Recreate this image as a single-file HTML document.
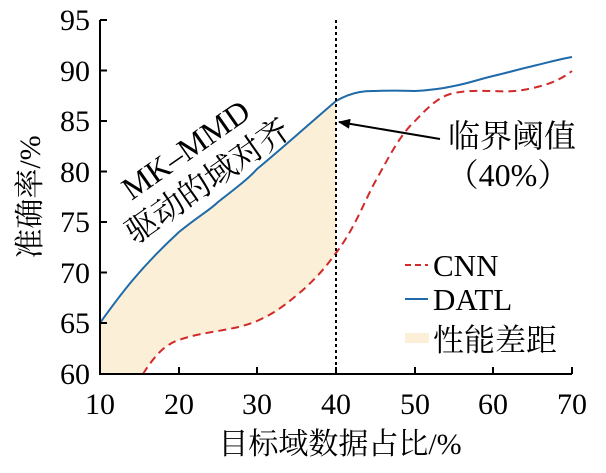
<!DOCTYPE html>
<html><head><meta charset="utf-8"><style>body{margin:0;background:#fff}</style></head><body>
<svg width="606" height="468" xmlns="http://www.w3.org/2000/svg" font-family="'Liberation Serif','Noto Serif CJK SC',serif">
<defs><clipPath id="c"><rect x="100" y="0" width="480" height="374"/></clipPath>
<marker id="ah" markerWidth="12" markerHeight="10" refX="11" refY="5" orient="auto" markerUnits="userSpaceOnUse"><path d="M0,0 L12,5 L0,10z" fill="#000"/></marker></defs>
<g clip-path="url(#c)">
<path d="M100,323 C120,295 140,268 179,232 C200,215 210,210 218,202 C240,185 250,177 257,169 C280,150 300,132 336,101 L336,253 C320,275 305,290 297,295 C280,310 270,318 257,321 C240,328 230,329 218,331 C200,334 190,336 179,340 C170,344 165,347 163,349 C155,356 148,366 143,374 L100,374Z" fill="#fcefd8"/>
<path d="M100,323 C120,295 140,268 179,232 C200,215 210,210 218,202 C240,185 250,177 257,169 C280,150 300,132 336,101 C355,90 370,91 375,91 C400,90 410,91 415,91 C435,90 445,88 454,86 C470,83 480,79 493,76 C510,72 520,69 533,66 C550,62 560,59 572,57" fill="none" stroke="#1f6aa8" stroke-width="2"/>
<path d="M143,374 C148,366 155,356 163,349 C170,344 172,342 179,340 C190,336 200,334 218,331 C235,328 245,326 257,321 C275,313 285,305 297,295 C315,280 325,268 336,253 C355,228 365,200 375,182 C390,155 400,135 415,121 C430,105 440,96 454,93 C470,90 480,91 493,91 C510,92 520,91 533,88 C550,84 560,80 572,71" fill="none" stroke="#d02a2a" stroke-width="2" stroke-dasharray="8,5"/>
</g>
<line x1="336" y1="20" x2="336" y2="374" stroke="#000" stroke-width="2" stroke-dasharray="3,3"/>
<g stroke="#000" stroke-width="2" fill="none">
<path d="M100,20 L100,374 L572,374"/>
<path d="M100,20h7M100,70.5h7M100,121h7M100,171.5h7M100,222h7M100,272.5h7M100,323h7"/>
<path d="M179,374v-7M257,374v-7M336,374v-7M415,374v-7M493,374v-7M572,374v-7"/>
</g>
<g font-size="30" text-anchor="end">
<text x="90" y="30">95</text><text x="90" y="81">90</text><text x="90" y="131">85</text><text x="90" y="182">80</text><text x="90" y="232">75</text><text x="90" y="283">70</text><text x="90" y="333">65</text><text x="90" y="384">60</text>
</g>
<g font-size="30" text-anchor="middle">
<text x="100" y="414">10</text><text x="179" y="414">20</text><text x="257" y="414">30</text><text x="336" y="414">40</text><text x="415" y="414">50</text><text x="493" y="414">60</text><text x="572" y="414">70</text>
<text x="340" y="454">目标域数据占比/%</text>
<text transform="translate(40,197) rotate(-90)">准确率/%</text>
</g>
<g font-size="32" text-anchor="middle" transform="translate(200,170) rotate(-35)">
<text x="0" y="-14">MK–MMD</text>
<text x="0" y="24">驱动的域对齐</text>
</g>
<line x1="440" y1="139" x2="339" y2="122" stroke="#000" stroke-width="2" marker-end="url(#ah)"/>
<text x="512" y="147" font-size="32" text-anchor="middle">临界阈值</text>
<text x="508" y="186" font-size="32" text-anchor="middle">（40%）</text>
<line x1="405" y1="265" x2="428" y2="265" stroke="#d02a2a" stroke-width="2" stroke-dasharray="6,4"/>
<line x1="405" y1="299" x2="428" y2="299" stroke="#1f6aa8" stroke-width="2"/>
<rect x="405" y="333" width="24" height="10" fill="#fcefd8"/>
<g font-size="31"><text x="433" y="276">CNN</text><text x="433" y="310">DATL</text><text x="433" y="351">性能差距</text></g>
</svg>
</body></html>
